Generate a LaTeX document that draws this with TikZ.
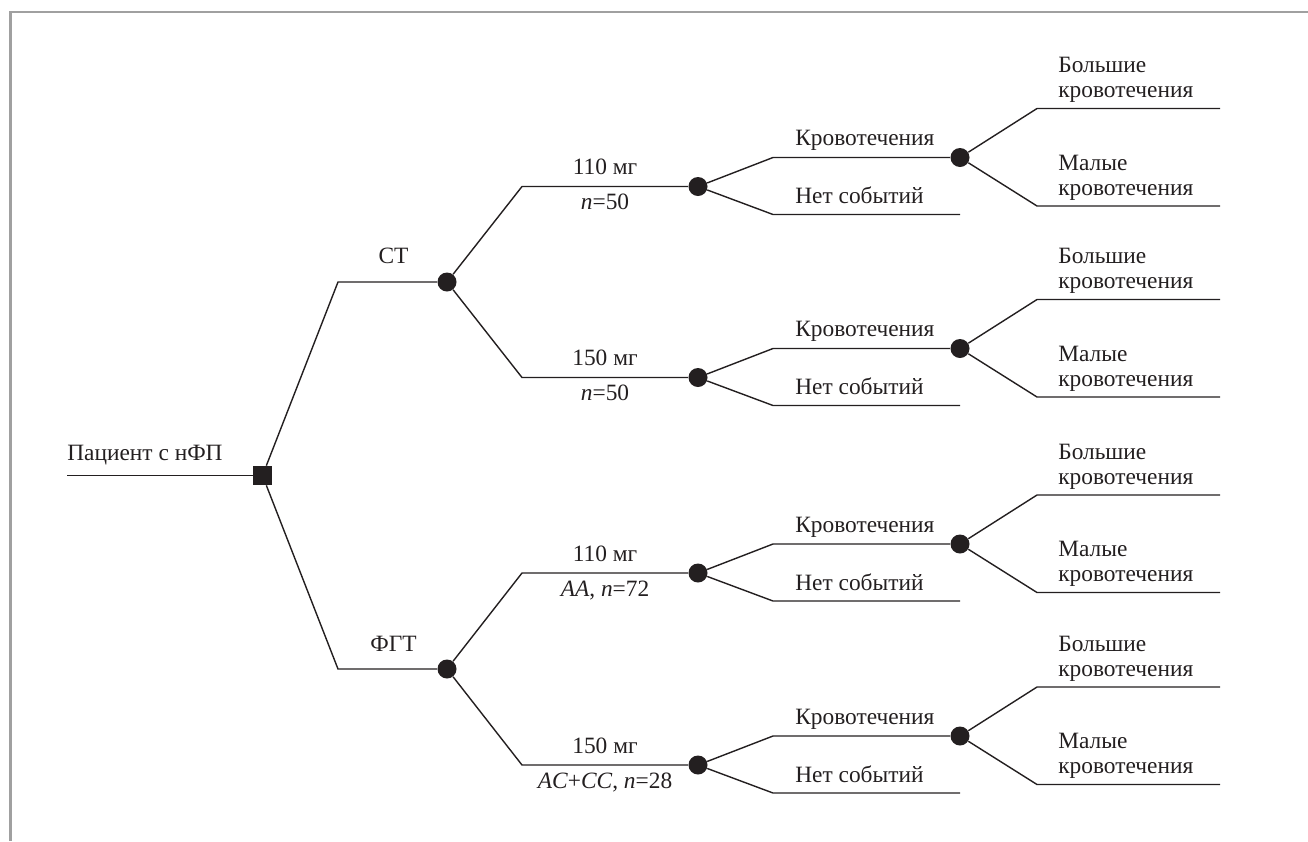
\documentclass[tikz,border=0pt]{standalone}
\usepackage{fontspec}
\setmainfont{Liberation Serif}
\usepackage{tikz}
\usetikzlibrary{positioning}
\definecolor{ink}{HTML}{231F20}
\definecolor{framegray}{HTML}{A0A0A0}
\tikzset{
  branch/.style={draw=ink,line width=.8pt},
  decision/.style={rectangle,fill=ink,minimum size=3.8mm,inner sep=0pt},
  chance/.style={circle,fill=ink,minimum size=3.8mm,inner sep=0pt},
  lbl/.style={font=\fontsize{13.3}{14}\selectfont,text=ink,inner sep=0pt},
}

\begin{document}
\begin{tikzpicture}[x=1cm,y=1cm]
  \useasboundingbox (0,0) rectangle (26.16,-16.82);
  \draw[framegray,line width=1.4pt] (0.21,-16.82) -- (0.21,-0.24) -- (26.16,-0.24);

  % root and the two treatment arms
  \coordinate (start) at (1.34,-9.51);
  \node[decision] (root) at (5.25,-9.51) {};
  \draw[branch] (start) -- (root);
  \node[lbl,anchor=base west] at (1.34,-9.2) {Пациент с нФП};

  \coordinate (ctb) at (6.76,-5.64);
  \node[chance] (ct) at (8.94,-5.64) {};
  \draw[branch] (root) -- (ctb) -- (ct);
  \node[lbl,anchor=base] at (7.87,-5.26) {СТ};

  \coordinate (fgtb) at (6.76,-13.38);
  \node[chance] (fgt) at (8.94,-13.38) {};
  \draw[branch] (root) -- (fgtb) -- (fgt);
  \node[lbl,anchor=base] at (7.87,-13.03) {ФГТ};

  % dose branches with their outcomes
  \foreach \i/\y/\dose/\cnt/\arm in {
      1/-3.73/110/{\textit{n}=50}/ct,
      2/-7.55/150/{\textit{n}=50}/ct,
      3/-11.46/110/{\textit{AA}, \textit{n}=72}/fgt,
      4/-15.30/150/{\textit{AC}+\textit{CC}, \textit{n}=28}/fgt}{
    \coordinate (db\i) at (10.44,\y);
    \node[chance] (dose\i) at (13.96,\y) {};
    \draw[branch] (\arm) -- (db\i) -- (dose\i);
    \node[lbl,anchor=base] at (12.1,\y+0.24) {\dose\ мг};
    \node[lbl,anchor=base] at (12.1,\y-0.46) {\cnt};

    \coordinate (bb\i) at (15.46,\y+0.58);
    \node[chance] (bleed\i) at (19.2,\y+0.58) {};
    \draw[branch] (dose\i) -- (bb\i) -- (bleed\i);
    \node[lbl,anchor=base west] at (15.9,\y+0.82) {Кровотечения};

    \coordinate (nb\i) at (15.46,\y-0.56);
    \coordinate (ne\i) at (19.2,\y-0.56);
    \draw[branch] (dose\i) -- (nb\i) -- (ne\i);
    \node[lbl,anchor=base west] at (15.9,\y-0.34) {Нет событий};

    \coordinate (mb\i) at (20.74,\y+1.56);
    \coordinate (me\i) at (24.4,\y+1.56);
    \draw[branch] (bleed\i) -- (mb\i) -- (me\i);
    \node[lbl,anchor=base west,align=left] at (21.16,\y+1.78) {Большие\\кровотечения};

    \coordinate (sb\i) at (20.74,\y-0.39);
    \coordinate (se\i) at (24.4,\y-0.39);
    \draw[branch] (bleed\i) -- (sb\i) -- (se\i);
    \node[lbl,anchor=base west,align=left] at (21.16,\y-0.17) {Малые\\кровотечения};
  }
\end{tikzpicture}
\end{document}
